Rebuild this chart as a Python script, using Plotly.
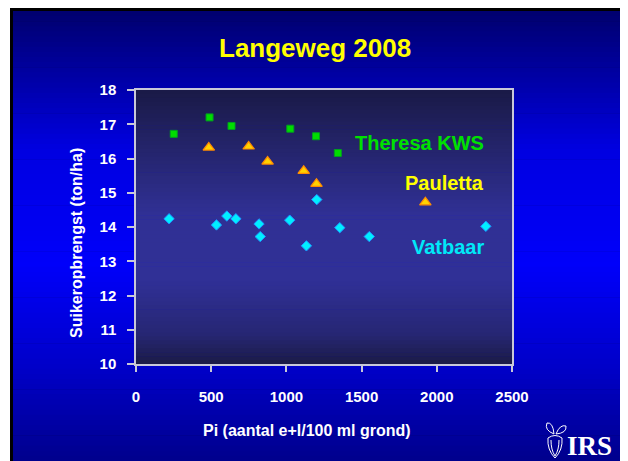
import plotly.graph_objects as go

# ---------------- data ----------------
theresa_x = [251, 489, 635, 1026, 1197, 1342]
theresa_y = [16.72, 17.20, 16.95, 16.87, 16.65, 16.16]

pauletta_x = [484, 749, 875, 1115, 1200, 1924]
pauletta_y = [16.32, 16.35, 15.91, 15.64, 15.26, 14.72]

vatbaar_x = [220, 535, 604, 664, 818, 826, 1022, 1133, 1202, 1355, 1551, 2326]
vatbaar_y = [14.24, 14.06, 14.32, 14.24, 14.09, 13.72, 14.20, 13.45, 14.80, 13.98, 13.72, 14.02]

x_ticks = [0, 500, 1000, 1500, 2000, 2500]
y_ticks = [10, 11, 12, 13, 14, 15, 16, 17, 18]

title_text = "Langeweg 2008"
x_title = "Pi (aantal e+l/100 ml grond)"
y_title = "Suikeropbrengst (ton/ha)"
series_names = ["Theresa KWS", "Pauletta", "Vatbaar"]

# ---------------- geometry (page pixels; page has an 8px body margin) ----------------
OFF = 8
W, H = 628, 461
L, R, T, B = 136, 512, 90, 364  # plot area in page pixels


def px(x):
    return (x - L) / (R - L)


def py(y):
    return (B - y) / (B - T)


def lerp_col(stops, t):
    for (t0, c0), (t1, c1) in zip(stops, stops[1:]):
        if t0 <= t <= t1:
            f = 0 if t1 == t0 else (t - t0) / (t1 - t0)
            return "rgb(%d,%d,%d)" % tuple(round(a + (b - a) * f) for a, b in zip(c0, c1))
    return "rgb(%d,%d,%d)" % stops[-1][1]


shapes = []
# black slide border
shapes.append(dict(type="rect", xref="paper", yref="paper", layer="below",
                   x0=px(10), x1=px(623), y0=py(8), y1=py(H + 20),
                   fillcolor="black", line=dict(width=0)))
# slide gradient
slide_stops = [(0.0, (0, 0, 112)), (0.30, (0, 0, 225)), (0.55, (0, 0, 250)),
               (0.78, (0, 0, 200)), (1.0, (0, 0, 135))]
y0s, y1s = 11, H + 10
n = 90
for i in range(n):
    a = y0s + (y1s - y0s) * i / n
    b = y0s + (y1s - y0s) * (i + 1) / n
    shapes.append(dict(type="rect", xref="paper", yref="paper", layer="below",
                       x0=px(13), x1=px(621), y0=py(a), y1=py(b + 0.6),
                       fillcolor=lerp_col(slide_stops, i / (n - 1)), line=dict(width=0)))
# plot area gradient
plot_stops = [(0.0, (26, 26, 72)), (0.45, (48, 48, 148)), (0.70, (48, 48, 150)),
              (0.90, (38, 38, 115)), (1.0, (28, 28, 72))]
n = 70
for i in range(n):
    a = T + (B - T) * i / n
    b = T + (B - T) * (i + 1) / n
    shapes.append(dict(type="rect", xref="paper", yref="paper", layer="below",
                       x0=0, x1=1, y0=py(a), y1=py(min(b + 0.6, B)),
                       fillcolor=lerp_col(plot_stops, i / (n - 1)), line=dict(width=0)))


# small beet logo outline
def pt(x, y):
    return "%.4f,%.4f" % (px(x), py(y))


beet = ("M " + pt(548, 438) + " Q " + pt(547, 450) + " " + pt(555, 458) +
        " Q " + pt(563, 450) + " " + pt(562, 438) + " Q " + pt(555, 433) + " " + pt(548, 438) + " Z")
shapes.append(dict(type="path", xref="paper", yref="paper", path=beet,
                   line=dict(color="white", width=1), fillcolor="rgba(0,0,0,0)"))
inner = ("M " + pt(551, 440) + " Q " + pt(551, 450) + " " + pt(555, 456) +
         " Q " + pt(559, 450) + " " + pt(559, 440))
shapes.append(dict(type="path", xref="paper", yref="paper", path=inner,
                   line=dict(color="white", width=1)))
leaf1 = ("M " + pt(554, 434) + " Q " + pt(544, 430) + " " + pt(547, 423) +
         " Q " + pt(553, 422) + " " + pt(554, 434))
leaf2 = ("M " + pt(556, 434) + " Q " + pt(560, 424) + " " + pt(566, 426) +
         " Q " + pt(567, 433) + " " + pt(556, 434))
for lf in (leaf1, leaf2):
    shapes.append(dict(type="path", xref="paper", yref="paper", path=lf,
                       line=dict(color="white", width=1), fillcolor="rgba(0,0,0,0)"))

fig = go.Figure()
fig.add_trace(go.Scatter(x=theresa_x, y=theresa_y, mode="markers", name=series_names[0],
                         marker=dict(symbol="square", size=7, color="#00DD00",
                                     line=dict(color="#00A020", width=1))))
fig.add_trace(go.Scatter(x=pauletta_x, y=pauletta_y, mode="markers", name=series_names[1],
                         marker=dict(symbol="triangle-up", size=10, color="#FFD200",
                                     line=dict(color="#FF8C00", width=1.2))))
fig.add_trace(go.Scatter(x=vatbaar_x, y=vatbaar_y, mode="markers", name=series_names[2],
                         marker=dict(symbol="diamond", size=8, color="#00EEFF",
                                     line=dict(color="#1E90FF", width=1))))

font_main = "Liberation Sans, Arial, sans-serif"
annotations = [
    dict(text="<b>%s</b>" % title_text, xref="paper", yref="paper", x=px(315), y=py(48),
         xanchor="center", yanchor="middle", showarrow=False,
         font=dict(family=font_main, size=26, color="#FFFF00")),
    dict(text="<b>%s</b>" % x_title, xref="paper", yref="paper", x=px(307), y=py(430),
         xanchor="center", yanchor="middle", showarrow=False,
         font=dict(family=font_main, size=16, color="white")),
    dict(text="<b>%s</b>" % y_title, xref="paper", yref="paper", x=px(77), y=py(243),
         xanchor="center", yanchor="middle", showarrow=False, textangle=-90,
         font=dict(family=font_main, size=16, color="white")),
    dict(text="<b>%s</b>" % series_names[0], xref="x", yref="y", x=2330, y=16.45,
         xanchor="right", yanchor="middle", showarrow=False,
         font=dict(family=font_main, size=20, color="#00E000")),
    dict(text="<b>%s</b>" % series_names[1], xref="x", yref="y", x=2330, y=15.28,
         xanchor="right", yanchor="middle", showarrow=False,
         font=dict(family=font_main, size=20, color="#FFFF00")),
    dict(text="<b>%s</b>" % series_names[2], xref="x", yref="y", x=2330, y=13.42,
         xanchor="right", yanchor="middle", showarrow=False,
         font=dict(family=font_main, size=20, color="#00E8F8")),
    dict(text="<b>IRS</b>", xref="paper", yref="paper", x=px(589), y=py(446),
         xanchor="center", yanchor="middle", showarrow=False,
         font=dict(family="Liberation Serif, Times New Roman, serif", size=27, color="white")),
]

fig.update_layout(
    width=W, height=H,
    margin=dict(l=L - OFF, r=W - (R - OFF), t=T - OFF, b=H - (B - OFF), pad=0),
    paper_bgcolor="white",
    plot_bgcolor="rgba(0,0,0,0)",
    showlegend=False,
    shapes=shapes,
    annotations=annotations,
    font=dict(family=font_main, color="white"),
)
fig.update_xaxes(range=[0, 2500], tickvals=x_ticks, ticktext=["<b>%d</b>" % v for v in x_ticks],
                 showgrid=False, zeroline=False, showline=True, linecolor="#C8C8D8", linewidth=1.5,
                 mirror=True, ticks="outside", ticklen=6, tickcolor="#C8C8D8", tickwidth=1.5,
                 tickfont=dict(size=15, color="white", family=font_main), ticklabelstandoff=12)
fig.update_yaxes(range=[10, 18], tickvals=y_ticks, ticktext=["<b>%d</b>" % v for v in y_ticks],
                 showgrid=False, zeroline=False, showline=True, linecolor="#C8C8D8", linewidth=1.5,
                 mirror=True, ticks="outside", ticklen=7, tickcolor="#C8C8D8", tickwidth=1.5,
                 tickfont=dict(size=15, color="white", family=font_main), ticklabelstandoff=8)

fig.write_html("out.html")
